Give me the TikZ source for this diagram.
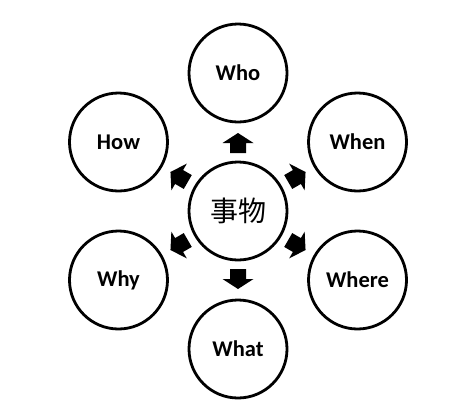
\documentclass[tikz,border=0pt]{standalone}
\usepackage{fontspec}
\setmainfont{Carlito}
\newfontfamily\cjk{Noto Sans CJK SC}
\begin{document}
\begin{tikzpicture}[x=1pt,y=1pt]
\tikzset{
  ball/.style={circle, draw, line width=2.8pt, minimum size=98pt, inner sep=0pt,
    font=\bfseries\fontsize{22.5}{26}\selectfont},
  hub/.style={ball, font=\cjk\mdseries\fontsize{28}{32}\selectfont},
  blockarrow/.style={fill=black}
}
\fill[white] (0,0) rectangle (460,-416);
\useasboundingbox (0,0) rectangle (460,-416);
\coordinate (c) at (238,-211);
\node[hub] (center) at (c) {事物};
\node[ball] (who) at ([shift={(90:138)}]c) {Who};
\node[ball] (when) at ([shift={(30:138)}]c) {When};
\node[ball] (how) at ([shift={(150:138)}]c) {How};
\node[ball] (why) at ([shift={(210:138)}]c) {Why};
\node[ball] (what) at ([shift={(270:138)}]c) {What};
\node[ball] (where) at ([shift={(330:138)}]c) {Where};
\foreach \a in {90,30,150,210,270,330}
  \fill[blockarrow, shift={(c)}, rotate=\a]
    (58,-8) -- (68,-8) -- (68,-15.5) -- (78,0) -- (68,15.5) -- (68,8) -- (58,8) -- cycle;
\end{tikzpicture}
\end{document}
